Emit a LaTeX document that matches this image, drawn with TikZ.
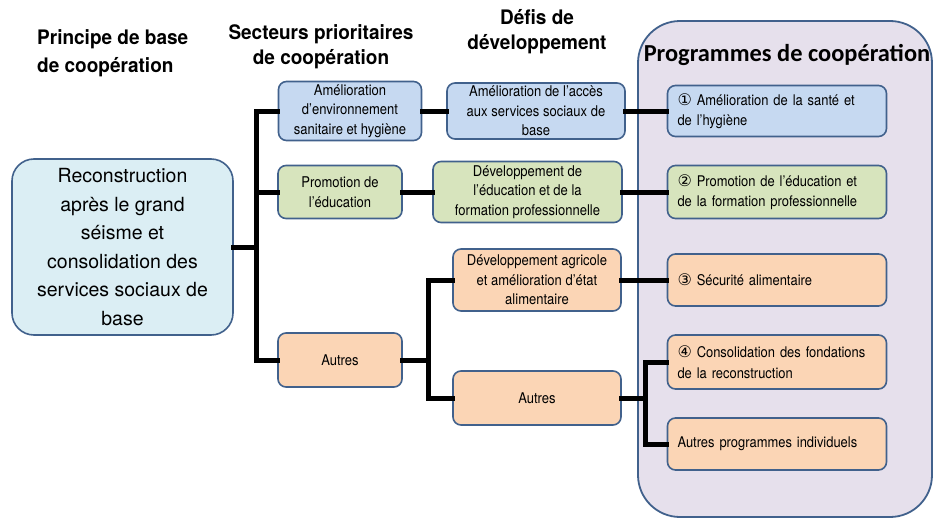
\documentclass[tikz,border=0pt]{standalone}
\usepackage{fontspec}
\setmainfont{TeX Gyre Heros}
\newfontfamily\boxfont{TeX Gyre Heros}[FakeStretch=0.88]
\newfontfamily\headfont{TeX Gyre Heros}[FakeStretch=0.95]
\newfontfamily\titlefont{Carlito}
\newfontfamily\symfont{DejaVu Sans}
\newcommand{\circnum}[1]{{\symfont\fontsize{16}{16}\selectfont #1}}

\definecolor{edgeblue}{HTML}{41618C}
\definecolor{rootfill}{HTML}{DBEEF4}
\definecolor{bluefill}{HTML}{C6D9F1}
\definecolor{greenfill}{HTML}{D7E4BD}
\definecolor{orangefill}{HTML}{FBD5B5}
\definecolor{panelfill}{HTML}{E6E0EC}

\tikzset{
  box/.style={draw=edgeblue, line width=1.6pt, rounded corners=8pt, inner sep=0pt,
    align=center, font={\boxfont\fontsize{14.8}{19.5}\selectfont}},
  progbox/.style={box, align=left, inner xsep=10pt, text width=199pt,
    minimum width=219pt, font={\boxfont\fontsize{14.7}{20.5}\selectfont}},
  heading/.style={inner sep=0pt, font={\headfont\bfseries\fontsize{20}{25}\selectfont}},
  conn/.style={line width=5pt, line cap=rect, line join=miter},
}

\begin{document}
\begin{tikzpicture}[x=1pt, y=-1pt]
\useasboundingbox (0,0) rectangle (934,519);

% column headings
\node[heading, anchor=north west, align=left,
      font={\headfont\bfseries\fontsize{20}{28.5}\selectfont}] (hprinc) at (37,29)
  {Principe de base\\de coopération};
\node[heading, anchor=north, align=center] (hsect) at (321,24)
  {Secteurs prioritaires\\de coopération};
\node[heading, anchor=north, align=center] (hdefis) at (537,9)
  {Défis de\\développement};

% programmes panel
\draw[draw=edgeblue, line width=1.8pt, fill=panelfill, rounded corners=42pt]
  (638,21) rectangle (932,517);
\node[inner sep=0pt, anchor=base, font={\titlefont\bfseries\fontsize{24.4}{28}\selectfont}]
  (hprog) at (787,62) {Programmes de coopération};

% basic principle
\node[box, fill=rootfill, rounded corners=22pt, minimum width=221pt, minimum height=176pt,
      font={\fontsize{19.5}{28.6}\selectfont}] (root) at (122.5,247)
  {Reconstruction\\après le grand\\séisme et\\consolidation des\\services sociaux de\\base};

% priority sectors
\node[box, fill=bluefill, minimum width=143pt, minimum height=59pt] (s1) at (350,111)
  {Amélioration\\d’environnement\\sanitaire et hygiène};
\node[box, fill=greenfill, minimum width=124pt, minimum height=53pt] (s2) at (340,192)
  {Promotion de\\l’éducation};
\node[box, fill=orangefill, minimum width=124pt, minimum height=54pt] (s3) at (340,360)
  {Autres};

% development challenges
\node[box, fill=bluefill, minimum width=178pt, minimum height=56pt] (d1) at (536,111)
  {Amélioration de l’accès\\aux services sociaux de\\base};
\node[box, fill=greenfill, minimum width=189pt, minimum height=61pt] (d2) at (527.5,192)
  {Développement de\\l’éducation et de la\\formation professionnelle};
\node[box, fill=orangefill, minimum width=168pt, minimum height=62pt] (d3) at (537,280)
  {Développement agricole\\et amélioration d’état\\alimentaire};
\node[box, fill=orangefill, minimum width=168pt, minimum height=54pt] (d4) at (537,398)
  {Autres};

% cooperation programmes
\node[progbox, fill=bluefill, minimum height=51pt] (p1) at (777,111)
  {\circnum{①} Amélioration de la santé et\\de l’hygiène};
\node[progbox, fill=greenfill, minimum height=53pt] (p2) at (777,192)
  {\circnum{②} Promotion de l’éducation et\\de la formation professionnelle};
\node[progbox, fill=orangefill, minimum height=52pt] (p3) at (777,280)
  {\circnum{③} Sécurité alimentaire};
\node[progbox, fill=orangefill, minimum height=54pt] (p4) at (777,362)
  {\circnum{④} Consolidation des fondations\\de la reconstruction};
\node[progbox, fill=orangefill, minimum height=52pt] (p5) at (777,444)
  {Autres programmes individuels};

% junction points
\coordinate (trunk) at (256,247);
\coordinate (j1) at (428,360);
\coordinate (j2) at (645,398);

% connectors
\draw[conn] (root.east) -- (trunk);
\draw[conn] (s1.west) -| (trunk) |- (s3.west);
\draw[conn] (trunk) |- (s2.west);
\draw[conn] (s1.east) -- (d1.west);
\draw[conn] (s2.east) -- (d2.west);
\draw[conn] (s3.east) -- (j1);
\draw[conn] (d3.west) -| (j1) |- (d4.west);
\draw[conn] (d1.east) -- (p1.west);
\draw[conn] (d2.east) -- (p2.west);
\draw[conn] (d3.east) -- (p3.west);
\draw[conn] (d4.east) -- (j2);
\draw[conn] (p4.west) -| (j2) |- (p5.west);
\end{tikzpicture}
\end{document}
